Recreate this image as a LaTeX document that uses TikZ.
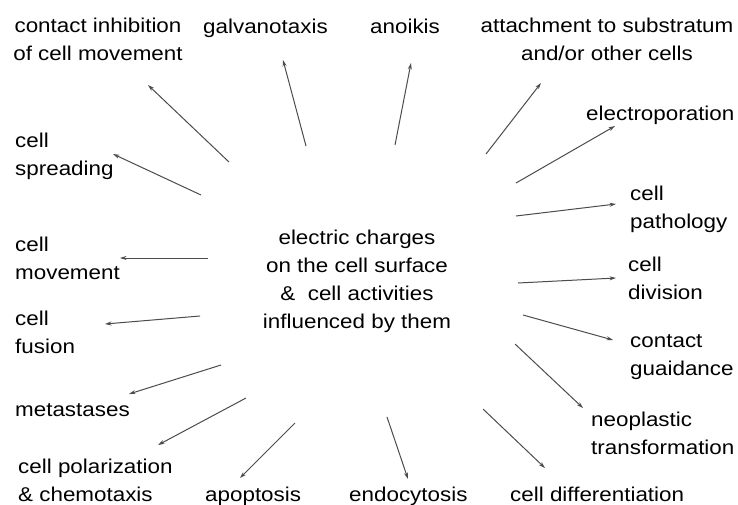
\documentclass[tikz,border=0pt]{standalone}
\usepackage{fontspec}
\setmainfont{Liberation Sans}[FakeStretch=1.12]
\usepackage{tikz}
\usetikzlibrary{arrows.meta}
\tikzset{
  lbl/.style={inner sep=0pt,align=left,font=\fontsize{20}{27.5}\selectfont,text=black},
  clbl/.style={inner sep=0pt,align=center,font=\fontsize{20}{27.5}\selectfont,text=black},
  hub/.style={inner sep=0pt,align=center,font=\fontsize{20}{27.7}\selectfont,text=black},
  arrow/.style={-{Stealth[length=6.5pt,width=4pt]},line width=1pt,draw=black!70}
}
\begin{document}
\begin{tikzpicture}[x=1pt,y=-1pt]
  \useasboundingbox[fill=white] (0,0) rectangle (738,504);

  % centre text
  \node[hub, anchor=base] (hub) at (357,328)
    {electric charges\\ on the cell surface\\ \&\ \ cell activities\\ influenced by them};

  % labels round the centre
  \node[clbl, anchor=base] (inhib) at (98,60) {contact inhibition\\ of cell movement};
  \node[lbl, anchor=base west] (galv) at (203,33) {galvanotaxis};
  \node[lbl, anchor=base west] (anoik) at (370,33) {anoikis};
  \node[clbl, anchor=base] (attach) at (607,60) {attachment to substratum\\ and/or other cells};
  \node[lbl, anchor=base west] (elpor) at (586,120) {electroporation};
  \node[lbl, anchor=base west] (patho) at (630,228) {cell\\ pathology};
  \node[lbl, anchor=base west] (divis) at (628,299) {cell\\ division};
  \node[lbl, anchor=base west] (guide) at (630,375) {contact\\ guaidance};
  \node[lbl, anchor=base west] (neopl) at (591,454) {neoplastic\\ transformation};
  \node[lbl, anchor=base west] (diff) at (510,501) {cell differentiation};
  \node[lbl, anchor=base west] (endo) at (349,501) {endocytosis};
  \node[lbl, anchor=base west] (apop) at (205,501) {apoptosis};
  \node[lbl, anchor=base west] (polar) at (18,501) {cell polarization\\ \& chemotaxis};
  \node[lbl, anchor=base west] (meta) at (15,416) {metastases};
  \node[lbl, anchor=base west] (fus) at (15,353) {cell\\ fusion};
  \node[lbl, anchor=base west] (move) at (15,279) {cell\\ movement};
  \node[lbl, anchor=base west] (spread) at (15,175) {cell\\ spreading};

  % arrow ends
  \coordinate (inhib-a) at (229,162);  \coordinate (inhib-b) at (148,85);
  \coordinate (galv-a) at (306,146);   \coordinate (galv-b) at (283,60);
  \coordinate (anoik-a) at (395,145);  \coordinate (anoik-b) at (411,63);
  \coordinate (attach-a) at (486,154); \coordinate (attach-b) at (541,83);
  \coordinate (elpor-a) at (516,183);  \coordinate (elpor-b) at (615,126);
  \coordinate (patho-a) at (516,216);  \coordinate (patho-b) at (616,204);
  \coordinate (divis-a) at (518,283);  \coordinate (divis-b) at (616,278);
  \coordinate (guide-a) at (523,315);  \coordinate (guide-b) at (613,340);
  \coordinate (neopl-a) at (515,344);  \coordinate (neopl-b) at (583,408);
  \coordinate (diff-a) at (483,409);   \coordinate (diff-b) at (545,468);
  \coordinate (endo-a) at (387,417);   \coordinate (endo-b) at (408,479);
  \coordinate (apop-a) at (295,423);   \coordinate (apop-b) at (240,478);
  \coordinate (polar-a) at (246,398);  \coordinate (polar-b) at (158,445);
  \coordinate (meta-a) at (221,365);   \coordinate (meta-b) at (129,394);
  \coordinate (fus-a) at (200,316);    \coordinate (fus-b) at (105,324);
  \coordinate (move-a) at (208,258);   \coordinate (move-b) at (120,258);
  \coordinate (spread-a) at (201,195); \coordinate (spread-b) at (113,154);

  \draw[arrow] (inhib-a) -- (inhib-b);
  \draw[arrow] (galv-a) -- (galv-b);
  \draw[arrow] (anoik-a) -- (anoik-b);
  \draw[arrow] (attach-a) -- (attach-b);
  \draw[arrow] (elpor-a) -- (elpor-b);
  \draw[arrow] (patho-a) -- (patho-b);
  \draw[arrow] (divis-a) -- (divis-b);
  \draw[arrow] (guide-a) -- (guide-b);
  \draw[arrow] (neopl-a) -- (neopl-b);
  \draw[arrow] (diff-a) -- (diff-b);
  \draw[arrow] (endo-a) -- (endo-b);
  \draw[arrow] (apop-a) -- (apop-b);
  \draw[arrow] (polar-a) -- (polar-b);
  \draw[arrow] (meta-a) -- (meta-b);
  \draw[arrow] (fus-a) -- (fus-b);
  \draw[arrow] (move-a) -- (move-b);
  \draw[arrow] (spread-a) -- (spread-b);
\end{tikzpicture}
\end{document}
